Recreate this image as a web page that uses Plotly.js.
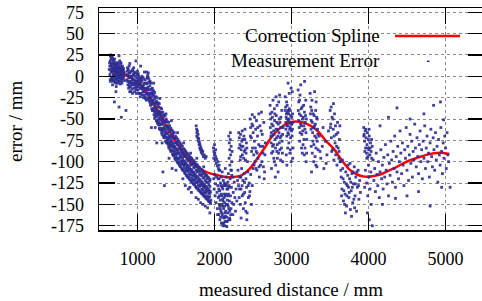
<!DOCTYPE html>
<html><head><meta charset="utf-8">
<script src="https://cdn.plot.ly/plotly-3.0.1.min.js"></script>
<style>html,body{margin:0;padding:0;overflow:hidden;background:#fff}</style>
</head><body><div id="chart"></div>
<script>
// Correction spline
const splineX = [650,750,850,950,1050,1150,1250,1350,1450,1550,1650,1750,1850,1950,2050,2150,2250,2350,2450,2550,2650,2750,2850,2950,3050,3150,3250,3350,3450,3550,3650,3750,3850,3950,4050,4150,4250,4350,4450,4550,4650,4750,4850,4950,5050];
const splineY = [6.5,4.5,1,-4,-11,-23,-38,-54,-69,-84,-96,-104,-110,-114,-116,-118,-118,-116,-109,-97,-84,-70,-61,-55,-53,-54,-58,-65,-76,-85,-98,-109,-115,-117.5,-117,-115,-111,-107,-102,-98,-95,-92,-90,-89.5,-91];

// Measurement error points, grouped by cluster [distance, error]
const clusterA = [[640,12],[648,18],[655,5],[660,22],[668,-2],[672,10],[680,15],[685,3],[690,-6],[698,8],[702,20],[710,0],[715,12],[720,-4],[728,6],[735,16],[742,-8],[750,4],[758,10],[765,-2],[772,8],[780,14],[788,2],[795,-5],[802,6],[810,0],[818,9],[825,3],[645,-4],[662,8],[676,-10],[694,2],[708,14],[724,-12],[738,6],[752,-6],[768,18],[784,-3],[800,10],[815,4],[652,25],[670,-1],[688,20],[705,10],[718,-8],[733,0],[747,12],[760,24],[776,-9],[792,6],[700,-30],[760,-36],[790,-48],[850,-40],[720,-18],[658,14],[683,9],[712,5],[744,-1],[770,2],
  [633,8],[637,16],[642,2],[646,24],[650,-6],[654,12],[657,20],[663,-3],[666,15],[670,6],[674,22],[678,-5],[682,11],[687,18],[691,1],[695,13],[699,-3],[704,7],[707,16],[712,-7],[716,9],[719,3],[723,14],[727,-2],[731,10],[736,2],[740,12],[745,-4],[749,8],[754,15],[757,1],[762,6],[766,-6],[770,11],[774,4],[778,-2],[782,9],[786,16],[790,0],[794,7],[798,-8],[804,12],[808,3],[812,-3],[816,7],[820,-1],[828,5],[832,-5]];
const clusterB = [[865,2],[872,-6],[880,8],[888,-2],[895,-12],[902,4],[910,-8],[918,0],[925,-15],[932,6],[940,-4],[948,-10],[955,2],[962,-18],[970,-6],[978,4],[985,-12],[992,-2],[1000,-8],[1008,-16],[1015,0],[1022,-10],[1030,-20],[1038,-4],[1045,-14],[1052,-6],[1060,-22],[1068,-12],[1075,-2],[1082,-18],[1090,-8],[1098,-24],[1105,-14],[1112,-20],[870,10],[892,12],[915,-18],[938,8],[960,5],[985,-20],[1010,3],[1035,-24],[1058,0],[1080,-25],[1100,-4],[900,15],[950,10],[1000,6],[1050,-2],[980,18],[1040,12],[1090,5],[898,-6],[928,-2],[968,-10],[1018,-6],[1064,-15],
  [862,-4],[868,6],[875,-10],[878,1],[884,-14],[890,4],[894,-8],[899,-18],[905,0],[908,-12],[913,6],[921,-6],[927,-10],[930,0],[935,-20],[943,-8],[946,2],[951,-14],[958,-4],[965,-8],[968,0],[974,-14],[981,-6],[988,-16],[995,-10],[998,2],[1004,-4],[1012,-12],[1019,-20],[1026,-2],[1033,-14],[1041,-8],[1048,-20],[1055,-12],[1062,-4],[1071,-18],[1078,-10],[1086,-22],[1094,-14],[1102,-26],[1108,-8],[1115,-28]];
const clusterBand = [[1118,5],[1122,-9],[1126,-21],[1133,1],[1137,-13],[1140,-27],[1148,-3],[1152,-16],[1155,-29],[1163,-6],[1166,-20],[1169,-34],[1178,-8],[1182,-24],[1185,-38],[1193,-14],[1196,-28],[1199,-40],[1208,-17],[1211,-31],[1214,-45],[1223,-19],[1226,-35],[1229,-47],[1238,-24],[1241,-38],[1244,-52],[1253,-25],[1256,-41],[1259,-55],[1268,-31],[1271,-45],[1274,-57],[1283,-32],[1286,-48],[1289,-62],[1298,-37],[1301,-51],[1304,-63],[1313,-38],[1316,-54],[1319,-68],[1328,-42],[1331,-56],[1334,-70],[1343,-45],[1346,-59],[1349,-71],[1358,-46],[1361,-62],[1364,-76],[1373,-50],[1376,-64],[1379,-78],[1388,-53],[1391,-67],[1394,-79],[1403,-54],[1406,-70],[1409,-84],[1418,-58],[1421,-72],[1424,-86],[1433,-61],[1436,-75],[1439,-87],[1448,-63],[1451,-77],[1454,-91],[1463,-65],[1466,-79],[1469,-93],[1478,-66],[1481,-82],[1484,-96],[1493,-70],[1496,-84],[1499,-98],[1508,-72],[1511,-86],[1514,-100],[1523,-74],[1526,-88],[1529,-102],[1538,-76],[1541,-90],[1544,-104],[1553,-78],[1556,-92],[1559,-106],[1568,-80],[1571,-94],[1574,-108],[1583,-82],[1586,-96],[1589,-110],[1598,-85],[1601,-99],[1604,-111],[1613,-86],[1616,-100],[1619,-114],[1628,-88],[1631,-102],[1634,-116],[1643,-90],[1646,-104],[1649,-118],[1658,-91],[1661,-105],[1664,-119],[1673,-93],[1676,-107],[1679,-121],[1688,-95],[1691,-109],[1694,-123],[1703,-96],[1706,-110],[1709,-124],[1718,-98],[1721,-112],[1724,-126],[1733,-99],[1736,-113],[1739,-127],[1748,-101],[1751,-115],[1754,-129],[1763,-103],[1766,-117],[1769,-131],[1778,-104],[1781,-118],[1784,-132],[1793,-106],[1796,-120],[1799,-134],[1808,-107],[1811,-121],[1814,-135],[1823,-109],[1826,-123],[1829,-137],[1838,-110],[1841,-124],[1844,-138],[1853,-112],[1856,-126],[1859,-140],[1868,-113],[1871,-127],[1874,-141],[1883,-115],[1886,-129],[1889,-143],[1898,-116],[1901,-130],[1904,-144],[1913,-118],[1916,-132],[1919,-146],[1928,-119],[1931,-133],[1934,-147],[1943,-121],[1946,-135],[1949,-149],[1620,-128],[1700,-136],[1760,-142],[1820,-148],[1880,-152],[1940,-160],[1660,-132],[1850,-150],[1330,-112],[1350,-128],[1450,-108],[1250,-78],[1180,-60]];
const clusterBand2 = [[1125,-2],[1130,-16],[1145,-7],[1158,-25],[1160,-11],[1172,-27],[1175,-15],[1188,-33],[1190,-19],[1203,-38],[1205,-21],[1218,-41],[1220,-27],[1233,-44],[1235,-31],[1248,-47],[1250,-32],[1262,-51],[1265,-35],[1278,-54],[1280,-41],[1293,-57],[1295,-43],[1308,-61],[1310,-45],[1323,-63],[1325,-49],[1338,-65],[1340,-51],[1353,-69],[1355,-53],[1368,-71],[1370,-58],[1383,-73],[1385,-59],[1398,-77],[1400,-61],[1413,-79],[1415,-65],[1428,-81],[1430,-69],[1443,-83],[1445,-71],[1458,-87],[1460,-72],[1473,-89],[1475,-73],[1488,-91],[1490,-78],[1503,-94],[1505,-78],[1518,-96],[1520,-80],[1533,-97],[1535,-85],[1548,-100],[1550,-84],[1563,-102],[1565,-88],[1578,-102],[1580,-90],[1593,-104],[1595,-92],[1608,-106],[1610,-94],[1623,-109],[1625,-94],[1638,-111],[1640,-97],[1653,-111],[1655,-99],[1668,-114],[1670,-98],[1683,-116],[1685,-102],[1698,-115],[1700,-104],[1713,-119],[1715,-103],[1728,-121],[1730,-107],[1743,-122],[1745,-106],[1758,-124],[1760,-110],[1773,-124],[1775,-112],[1788,-127],[1790,-111],[1803,-129],[1805,-115],[1818,-128],[1820,-116],[1833,-132],[1835,-116],[1848,-133],[1850,-119],[1863,-135],[1865,-119],[1878,-137],[1880,-122],[1893,-136],[1895,-124],[1908,-140],[1910,-124],[1923,-142],[1925,-127],[1938,-141],[1940,-129],[1952,-145],
  [1140,4],[1210,-8],[1290,-26],[1370,-44],[1440,-52],[1520,-66],[1600,-78],[1690,-90],[1770,-96],[1860,-106],[1230,-60],[1320,-78],[1410,-96],[1500,-110],[1590,-120],[1680,-130],[1790,-144],[1910,-154],
  [1143,-20],[1187,-21],[1227,-41],[1263,-44],[1297,-56],[1333,-62],[1367,-67],[1402,-75],[1437,-80],[1472,-84],[1507,-90],[1542,-96],[1577,-99],[1612,-103],[1647,-108],[1682,-111],[1717,-116],[1752,-118],[1787,-123],[1822,-126],[1857,-130],[1892,-133],[1927,-137]];
const clusterBand3 = [[1128,-1],[1131,-15],[1134,-25],[1157,-7],[1161,-21],[1164,-31],[1187,-16],[1191,-30],[1194,-40],[1217,-23],[1221,-37],[1224,-49],[1247,-29],[1251,-43],[1254,-53],[1277,-36],[1281,-50],[1284,-61],[1307,-42],[1311,-56],[1314,-66],[1337,-47],[1341,-61],[1344,-72],[1367,-53],[1371,-67],[1374,-77],[1397,-58],[1401,-72],[1404,-82],[1427,-63],[1431,-77],[1434,-88],[1457,-68],[1461,-82],[1464,-92],[1487,-73],[1491,-87],[1494,-97],[1517,-77],[1521,-91],[1524,-101],[1547,-81],[1551,-95],[1554,-105],[1577,-85],[1581,-99],[1584,-109],[1607,-89],[1611,-103],[1614,-113],[1637,-92],[1641,-106],[1644,-116],[1667,-95],[1671,-109],[1674,-119],[1697,-98],[1701,-112],[1704,-122],[1727,-102],[1731,-116],[1734,-126],[1757,-106],[1761,-120],[1764,-130],[1787,-109],[1791,-123],[1794,-133],[1817,-112],[1821,-126],[1824,-136],[1847,-114],[1851,-128],[1854,-138],[1877,-117],[1881,-131],[1884,-141],[1907,-120],[1911,-134],[1914,-144],[1937,-123],[1941,-137],[1944,-147]];
const streak1800 = [[1762,-58],[1768,-62],[1772,-66],[1770,-70],[1778,-64],[1782,-72],[1786,-68],[1790,-76],[1795,-73],[1800,-80],[1804,-77],[1808,-84],[1812,-80],[1818,-86],[1822,-83],[1828,-89],[1834,-86],[1840,-91],[1848,-88],[1856,-94],[1866,-92],[1880,-96],[1892,-94]];
const streak2000 = [[1985,-84],[1992,-88],[1998,-92],[1990,-96],[2004,-90],[2010,-98],[2016,-94],[2022,-102],[2028,-97],[2036,-105],[2044,-100],[2052,-108],[2060,-104],[2068,-110],[2000,-80],[2014,-86]];
const cluster2100 = [[1990,-120],[1996,-132],[2002,-115],[2008,-140],[2014,-126],[2020,-148],[2026,-118],[2032,-136],[2038,-155],[2044,-128],[2050,-142],[2054,-162],[2058,-120],[2062,-150],[2066,-134],[2070,-168],[2074,-145],[2078,-125],[2082,-158],[2086,-138],[2090,-172],[2094,-150],[2098,-130],[2102,-162],[2106,-144],[2110,-175],[2114,-122],[2118,-155],[2122,-138],[2126,-166],[2130,-148],[2134,-128],[2138,-170],[2142,-140],[2146,-158],[2150,-118],[2154,-150],[2158,-165],[2162,-132],[2166,-145],[2170,-160],[2174,-124],[2178,-152],[2182,-138],[2186,-168],[2190,-128],[2194,-146],[2198,-158],[2202,-120],[2208,-140],[2214,-155],[2220,-130],[2226,-148],[2232,-118],[2238,-162],[2244,-136],[2250,-150],[2256,-124],[2264,-142],[2272,-158],[2280,-132],[2290,-146],[2300,-122],[2060,-110],[2100,-112],[2140,-108],[2180,-114],[2220,-110],[2120,-172],[2080,-165],[2160,-176],[2040,-162],[2200,-168],[2105,-152],[2125,-142],[2145,-126],[2165,-170],[2185,-155],[2210,-162],[2135,-160],[2095,-140],[2075,-155],[2055,-132],
  [2048,-120],[2064,-140],[2084,-128],[2092,-160],[2108,-132],[2116,-165],[2128,-125],[2132,-152],[2148,-138],[2156,-128],[2168,-150],[2176,-140],[2188,-130],[2196,-166],[2112,-146],[2088,-118],[2152,-170],[2172,-132],[2118,-128],[2068,-152],[2142,-164],[2102,-172],[2130,-175]];
const cluster2400 = [[2185,-70],[2192,-78],[2198,-86],[2204,-74],[2210,-92],[2216,-82],[2222,-100],[2228,-88],[2190,-96],[2200,-104],[2212,-110],[2224,-116],[2206,-66],[2315,-66],[2322,-72],[2330,-80],[2338,-68],[2346,-86],[2354,-76],[2362,-92],[2370,-82],[2378,-96],[2386,-88],[2394,-74],[2402,-98],[2410,-90],[2420,-84],[2428,-100],[2340,-94],[2360,-64],[2395,-62],[2305,-110],[2312,-128],[2320,-142],[2328,-118],[2336,-150],[2344,-132],[2352,-108],[2360,-140],[2368,-122],[2376,-155],[2384,-114],[2392,-136],[2400,-148],[2408,-120],[2416,-130],[2424,-160],[2432,-112],[2440,-142],[2450,-125],[2460,-135],[2470,-115],[2480,-150],[2490,-128],[2500,-108],[2345,-166],[2420,-168],
  [2318,-84],[2334,-98],[2350,-82],[2366,-74],[2382,-70],[2398,-86],[2414,-78],[2326,-132],[2342,-118],[2358,-128],[2374,-138],[2390,-124],[2406,-158],[2438,-128],[2455,-140]];
const cluster2600 = [[2462,-50],[2470,-60],[2478,-72],[2486,-56],[2494,-84],[2502,-66],[2510,-92],[2518,-76],[2526,-100],[2534,-62],[2542,-88],[2550,-110],[2558,-70],[2566,-96],[2574,-80],[2582,-118],[2590,-58],[2598,-104],[2490,-45],[2520,-48],[2545,-52],[2575,-44],[2610,-42],[2620,-68],[2630,-90],[2640,-54],[2650,-112],[2660,-78],[2615,-100],[2645,-120],
  [2466,-70],[2482,-88],[2498,-58],[2514,-104],[2530,-84],[2538,-108],[2554,-90],[2562,-60],[2578,-106],[2594,-82],[2605,-64],[2625,-82],[2635,-106],[2655,-92]];
const cluster2800 = [[2722,-34],[2730,-50],[2738,-66],[2746,-42],[2754,-82],[2762,-58],[2770,-96],[2778,-38],[2786,-74],[2794,-104],[2802,-46],[2810,-88],[2818,-62],[2826,-112],[2834,-30],[2842,-78],[2850,-54],[2858,-98],[2866,-70],[2874,-40],[2882,-90],[2890,-60],[2760,-28],[2800,-24],[2845,-22],[2740,-108],[2790,-118],[2725,-60],[2735,-78],[2748,-70],[2758,-88],[2768,-64],[2780,-52],[2792,-84],[2806,-72],[2816,-96],[2828,-56],[2838,-66],[2848,-86],[2862,-48],[2878,-76],[2886,-100],
  [2724,-44],[2732,-70],[2744,-56],[2752,-48],[2766,-80],[2774,-68],[2784,-44],[2798,-62],[2808,-54],[2814,-80],[2824,-70],[2832,-90],[2840,-50],[2852,-72],[2860,-60],[2870,-84],[2884,-68],[2742,-90],[2776,-100],[2812,-34]];
const cluster3000 = [[2918,-24],[2924,-36],[2930,-48],[2936,-30],[2942,-58],[2948,-42],[2954,-66],[2960,-52],[2966,-78],[2972,-38],[2978,-90],[2984,-60],[2990,-46],[2996,-100],[3002,-56],[3008,-70],[3014,-44],[3020,-84],[2928,-62],[2946,-50],[2964,-44],[2982,-54],[3000,-64],[2940,-104],[2970,-20],[2995,-14],[2955,-8],[3010,-18],
  [2920,-40],[2926,-54],[2934,-44],[2938,-70],[2944,-34],[2952,-58],[2958,-40],[2962,-68],[2968,-50],[2976,-62],[2980,-40],[2988,-72],[2992,-56],[3004,-48],[3012,-62],[3018,-54],[2950,-84],[2986,-86],[2932,-92],[3016,-96]];
const cluster3150 = [[3086,-16],[3094,-30],[3102,-44],[3110,-22],[3118,-56],[3126,-38],[3134,-68],[3142,-50],[3150,-80],[3158,-34],[3166,-92],[3174,-62],[3182,-46],[3190,-100],[3198,-74],[3100,-60],[3130,-84],[3160,-58],[3185,-28],[3120,-10],[3170,-6],
  [3088,-40],[3096,-52],[3104,-28],[3112,-66],[3122,-46],[3128,-58],[3138,-36],[3146,-64],[3154,-48],[3162,-74],[3168,-42],[3178,-54],[3188,-66],[3194,-50],[3106,-76],[3140,-90],[3176,-84],[3196,-90]];
const cluster3300 = [[3242,-20],[3250,-36],[3258,-52],[3266,-28],[3274,-66],[3282,-44],[3290,-80],[3298,-58],[3306,-94],[3314,-40],[3322,-72],[3330,-106],[3338,-62],[3345,-86],[3260,-112],[3300,-18],[3320,-30],[3270,-90],[3335,-50],[3360,-70],[3380,-96],[3400,-82],[3420,-108],[3440,-76],[3460,-92],[3480,-64],[3370,-88],[3450,-102],[3410,-60],
  [3246,-44],[3254,-62],[3262,-40],[3270,-54],[3278,-76],[3286,-60],[3294,-46],[3302,-70],[3310,-56],[3318,-84],[3326,-48],[3334,-76],[3342,-68],[3256,-82],[3288,-100],[3316,-104]];
const cluster3550 = [[3502,-40],[3510,-56],[3518,-72],[3526,-48],[3534,-86],[3542,-62],[3550,-98],[3558,-44],[3566,-78],[3574,-92],[3582,-68],[3590,-104],[3598,-54],[3606,-84],[3614,-96],[3622,-74],[3630,-100],[3515,-36],[3545,-32],
  [3506,-60],[3522,-88],[3538,-50],[3554,-70],[3570,-58],[3586,-82],[3602,-66],[3618,-88],[3628,-58]];
const cluster3750 = [[3635,-100],[3645,-118],[3655,-132],[3665,-108],[3675,-146],[3685,-124],[3695,-138],[3705,-112],[3715,-152],[3725,-128],[3735,-104],[3745,-142],[3755,-120],[3765,-156],[3775,-134],[3785,-114],[3795,-148],[3805,-126],[3815,-106],[3825,-140],[3835,-118],[3845,-158],[3855,-130],[3865,-110],[3875,-144],[3885,-122],[3895,-136],[3660,-98],[3700,-160],[3740,-130],[3780,-164],[3820,-154],[3760,-102],[3690,-150],[3800,-112],
  [3640,-110],[3650,-140],[3670,-120],[3680,-134],[3710,-126],[3720,-140],[3730,-116],[3750,-136],[3770,-124],[3790,-130],[3810,-144],[3830,-126],[3850,-112],[3870,-128]];
const cluster4000 = [[3938,-60],[3944,-68],[3950,-76],[3956,-64],[3962,-84],[3968,-72],[3974,-90],[3980,-80],[3986,-66],[3992,-94],[3998,-74],[4004,-86],[4010,-70],[4018,-92],[4026,-78],[4034,-88],[4042,-96],[4048,-82],[3960,-110],[3975,-125],[3990,-140],[4005,-118],[4020,-132],[4035,-150],[3985,-160],[4010,-168],[4050,-175],[3950,-130],[4000,-104],[4030,-112],
  [3940,-70],[3952,-88],[3966,-62],[3978,-96],[3994,-84],[4008,-62],[4022,-84],[4040,-74]];
const cloud4500 = [[4060,-98],[4070,-122],[4080,-108],[4090,-135],[4100,-90],[4110,-115],[4120,-128],[4130,-100],[4140,-142],[4150,-112],[4160,-86],[4170,-120],[4180,-104],[4190,-132],[4200,-95],[4210,-118],[4220,-80],[4230,-110],[4240,-126],[4250,-92],[4260,-140],[4270,-102],[4280,-116],[4290,-76],[4300,-98],[4310,-124],[4320,-88],[4330,-108],[4340,-70],[4350,-130],[4360,-94],[4370,-112],[4380,-82],[4390,-120],[4400,-100],[4410,-64],[4420,-90],[4430,-114],[4440,-78],[4450,-104],[4460,-128],[4470,-86],[4480,-96],[4490,-60],[4500,-110],[4510,-82],[4520,-122],[4530,-92],[4540,-68],[4550,-102],[4560,-76],[4570,-118],[4580,-88],[4590,-98],[4600,-56],[4610,-84],[4620,-106],[4630,-72],[4640,-94],[4650,-114],[4660,-80],[4670,-64],[4680,-100],[4690,-86],[4700,-120],[4710,-76],[4720,-96],[4730,-58],[4740,-108],[4750,-84],[4760,-70],[4770,-100],[4780,-90],[4790,-118],[4800,-78],[4810,-62],[4820,-94],[4830,-106],[4840,-72],[4850,-86],[4860,-110],[4870,-66],[4880,-98],[4890,-82],[4900,-124],[4910,-74],[4920,-92],[4930,-104],[4940,-60],[4950,-88],[4960,-114],[4970,-78],[4980,-96],[4990,-70],[5000,-84],[5010,-108],[5020,-66],[5030,-92],[5040,-100],[5060,-130],[4370,-37],[4540,-50],[4845,-34],[4935,-30],[4975,-51],[4720,-44],[4260,-48],[4150,-58],[4350,-143],[4800,-152],[4180,-150],[4500,-140],[4650,-135],[4950,-130]];

const xTicks = [1000,2000,3000,4000,5000];
const yTicks = [-175,-150,-125,-100,-75,-50,-25,0,25,50,75];
const xTitle = 'measured distance / mm';
const yTitle = 'error / mm';
const legendNames = ['Correction Spline','Measurement Error'];

const allPts = [].concat(clusterA, clusterB, clusterBand, clusterBand2, clusterBand3, streak1800, streak2000, cluster2100, cluster2400, cluster2600, cluster2800, cluster3000, cluster3150, cluster3300, cluster3550, cluster3750, cluster4000, cloud4500);
const measX = allPts.map(p => p[0]);
const measY = allPts.map(p => p[1]);

const W = 484, H = 301, L = 99, R = 0, T = 8, B = 71;
const PW = W - L - R, PH = H - T - B;
const px = v => (v - L) / PW;
const py = v => (T + PH - v) / PH;
const FONT = 'Liberation Serif, Times New Roman, serif';
const BLUE = '#2c2c92';

const traces = [
  {x: splineX, y: splineY, type: 'scatter', mode: 'lines', line: {color: '#ff0000', width: 2.5, shape: 'spline'}, hoverinfo: 'skip'},
  {x: measX, y: measY, type: 'scatter', mode: 'markers', marker: {symbol: 'square', size: 2.8, color: BLUE, opacity: 0.9, line: {width: 0}}, hoverinfo: 'skip'}
];

const axisCommon = {
  ticks: 'inside', ticklen: 16, tickwidth: 1.5, tickcolor: '#000',
  showline: true, linecolor: '#000', linewidth: 1.5, mirror: 'ticks',
  showgrid: true, gridcolor: '#8a8a8a', griddash: 'dot', gridwidth: 1,
  zeroline: false
};

const layout = {
  width: W, height: H, margin: {l: L, r: R, t: T, b: B},
  paper_bgcolor: '#fff', plot_bgcolor: '#fff', showlegend: false,
  font: {family: FONT, color: '#000'},
  xaxis: Object.assign({}, axisCommon, {range: [500, 5500], tickvals: xTicks, ticktext: xTicks.map(String), ticklabelstandoff: 12, tickfont: {family: FONT, size: 18, color: '#000'}}),
  yaxis: Object.assign({}, axisCommon, {range: [-180, 80], tickvals: yTicks, ticktext: yTicks.map(String), ticklabelstandoff: 10, tickfont: {family: FONT, size: 18, color: '#000'}}),
  shapes: [
    {type: 'rect', xref: 'paper', yref: 'paper', x0: px(178), x1: px(490), y0: py(71), y1: py(22), fillcolor: '#fff', line: {width: 0}, layer: 'between'},
    {type: 'line', xref: 'paper', yref: 'paper', x0: px(395), x1: px(460), y0: py(36), y1: py(36), line: {color: '#ff0000', width: 2.5}},
    {type: 'rect', xref: 'paper', yref: 'paper', x0: px(427), x1: px(429.5), y0: py(62), y1: py(60.5), fillcolor: BLUE, line: {width: 0}}
  ],
  annotations: [
    {xref: 'paper', yref: 'paper', x: px(291), y: py(289), text: xTitle, showarrow: false, xanchor: 'center', yanchor: 'middle', font: {family: FONT, size: 19, color: '#000'}},
    {xref: 'paper', yref: 'paper', x: px(15), y: py(122), text: yTitle, showarrow: false, textangle: -90, xanchor: 'center', yanchor: 'middle', font: {family: FONT, size: 19, color: '#000'}},
    {xref: 'paper', yref: 'paper', x: px(382), y: py(35), text: legendNames[0], showarrow: false, xanchor: 'right', yanchor: 'middle', font: {family: FONT, size: 19, color: '#000'}},
    {xref: 'paper', yref: 'paper', x: px(382), y: py(60), text: legendNames[1], showarrow: false, xanchor: 'right', yanchor: 'middle', font: {family: FONT, size: 19, color: '#000'}}
  ]
};

Plotly.newPlot('chart', traces, layout, {staticPlot: true, displayModeBar: false});
</script></body></html>
